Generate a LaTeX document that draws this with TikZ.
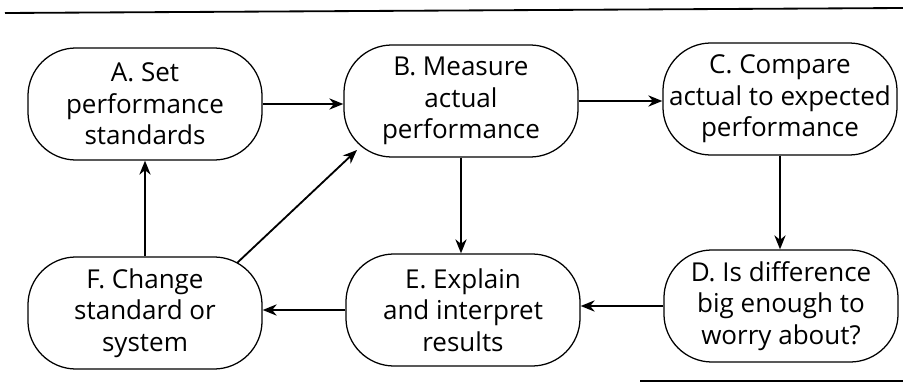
\documentclass[tikz,border=0pt]{standalone}
\usepackage{fontspec}
\setmainfont{Open Sans}
\usetikzlibrary{arrows.meta}
\begin{document}
\begin{tikzpicture}[x=0.025cm,y=-0.025cm,
  box/.style={draw, line width=0.9pt, rounded corners=1.2cm, minimum width=5.85cm, minimum height=2.8cm, align=center, inner sep=0pt, font=\fontsize{18.5}{22.5}\selectfont},
  arr/.style={line width=1.3pt, -{Stealth[length=10pt,width=8pt]}}]
\useasboundingbox (0,0) rectangle (903,387);
\draw[line width=1.3pt] (5,13) -- (903,8);
\draw[line width=1.3pt] (640,381) -- (903,381);
\node[box] (A) at (145,104) {A. Set\\performance\\standards};
\node[box] (B) at (461,101) {B. Measure\\actual\\performance};
\node[box] (C) at (780,99) {C. Compare\\actual to expected\\performance};
\node[box] (D) at (781,306) {D. Is difference\\big enough to\\worry about?};
\node[box] (E) at (463,310) {E. Explain\\and interpret\\results};
\node[box] (F) at (145,313) {F. Change\\standard or\\system};
\draw[arr] (A.east) -- (A.east -| B.west);
\draw[arr] (B.east) -- (B.east -| C.west);
\draw[arr] (B.south) -- (E.north -| B.south);
\draw[arr] (C.south) -- (D.north -| C.south);
\draw[arr] (D.west) -- (D.west -| E.east);
\draw[arr] (E.west) -- (E.west -| F.east);
\draw[arr] (F.north) -- (A.south);
\coordinate (f1) at (237,263);
\coordinate (b1) at (357,150);
\draw[arr] (f1) -- (b1);
\end{tikzpicture}
\end{document}
